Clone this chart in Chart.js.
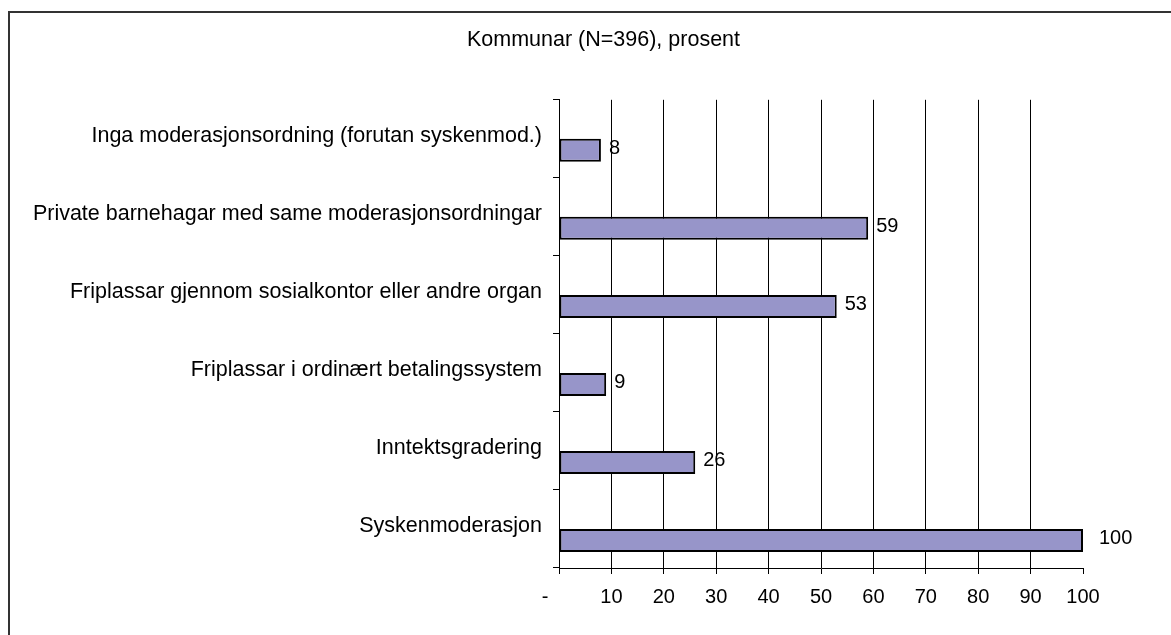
<!DOCTYPE html>
<html>
<head>
<meta charset="utf-8">
<script src="https://cdn.jsdelivr.net/npm/chart.js@4.4.1/dist/chart.umd.min.js"></script>
<style>
  html, body { margin: 0; padding: 0; background: #fff; overflow: hidden; }
  #frame {
    position: absolute; left: 8px; top: 11px;
    width: 1300px; height: 800px;
    border-left: 2px solid #333; border-top: 2px solid #333;
  }
  #myChart { position: absolute; left: 0; top: 0; }
</style>
</head>
<body>
<div id="frame"></div>
<canvas id="myChart" width="1171" height="635"></canvas>
<script>
const categories = [
  "Inga moderasjonsordning (forutan syskenmod.)",
  "Private barnehagar med same moderasjonsordningar",
  "Friplassar gjennom sosialkontor eller andre organ",
  "Friplassar i ordinært betalingssystem",
  "Inntektsgradering",
  "Syskenmoderasjon"
];
const percentValues = [8, 59, 53, 9, 26, 100];
const spacerValues = [null, null, null, null, null, null]; // empty slot, pushes bars down in their band
const xTicks = [0, 10, 20, 30, 40, 50, 60, 70, 80, 90, 100];

const FONT = "'Liberation Sans', Arial, sans-serif";

// writes the number right of each bar
const valueLabels = {
  id: "valueLabels",
  afterDatasetsDraw(chart) {
    const ctx = chart.ctx;
    const meta = chart.getDatasetMeta(1);
    ctx.save();
    ctx.font = "20px " + FONT;
    ctx.fillStyle = "#000";
    ctx.textAlign = "left";
    ctx.textBaseline = "middle";
    meta.data.forEach((bar, i) => {
      const gap = percentValues[i] >= 100 ? 16 : 8;
      ctx.fillText(String(percentValues[i]), bar.x + gap, bar.y - 2);
    });
    ctx.restore();
  }
};

// the original title is not centred on the whole box, nudge it right
const titleShift = {
  id: "titleShift",
  afterLayout(chart) {
    const t = chart.titleBlock;
    if (t) { t.left += 62; t.right += 62; }
  }
};

new Chart("myChart", {
  type: "bar",
  data: {
    labels: categories,
    datasets: [{
      data: spacerValues,
      backgroundColor: "rgba(0,0,0,0)"
    }, {
      data: percentValues,
      backgroundColor: "#9795c9",
      borderColor: "#000",
      borderWidth: 2,
      borderSkipped: false
    }]
  },
  options: {
    indexAxis: "y",
    responsive: false,
    animation: false,
    devicePixelRatio: 1,
    categoryPercentage: 0.59,
    barPercentage: 1,
    layout: { padding: { left: 0, right: 88, top: 0, bottom: 0 } },
    plugins: {
      legend: { display: false },
      tooltip: { enabled: false },
      title: {
        display: true,
        text: "Kommunar (N=396), prosent",
        color: "#000",
        font: { family: FONT, size: 21.5, weight: "normal", lineHeight: 1.2 },
        padding: { top: 27, bottom: 47 }
      }
    },
    scales: {
      x: {
        min: 0,
        max: 100,
        afterFit(scale) { scale.height = 67; },
        afterBuildTicks(scale) { scale.ticks = xTicks.map(v => ({ value: v })); },
        ticks: {
          color: "#000",
          font: { family: FONT, size: 20 },
          padding: 11,
          maxRotation: 0,
          callback: v => v === 0 ? "-     " : v
        },
        grid: {
          color: c => (c.tick && (c.tick.value === 0 || c.tick.value === 100)) ? "rgba(0,0,0,0)" : "#000",
          tickColor: "#000",
          tickLength: 6,
          lineWidth: 1
        },
        border: { display: true, color: "#000", width: 1 }
      },
      y: {
        afterFit(scale) { scale.width = 559; },
        ticks: {
          color: "#000",
          font: { family: FONT, size: 21.5 },
          padding: 11,
          labelOffset: -3
        },
        grid: {
          drawOnChartArea: false,
          tickColor: "#000",
          tickLength: 6,
          offset: true
        },
        border: { display: true, color: "#000", width: 1 }
      }
    }
  },
  plugins: [valueLabels, titleShift]
});
</script>
</body>
</html>
